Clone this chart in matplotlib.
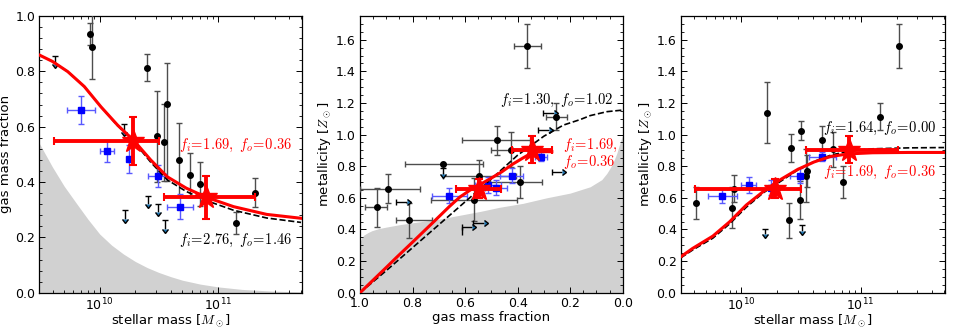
import numpy as np
import matplotlib
matplotlib.use("Agg")
import matplotlib.pyplot as plt
from matplotlib.ticker import MultipleLocator

plt.rcParams['mathtext.fontset'] = 'cm'
plt.rcParams['font.family'] = ['DejaVu Sans']

# ---------------- model curves / shaded regions ----------------
p1_curve_logM = [9.49, 9.60, 9.73, 9.87, 10.01, 10.15, 10.29, 10.43, 10.57, 10.73, 10.90, 11.13, 11.41, 11.70]
p1_red = [0.859, 0.836, 0.799, 0.745, 0.672, 0.606, 0.549, 0.480, 0.419, 0.378, 0.345, 0.311, 0.283, 0.269]
p1_dash = [0.859, 0.836, 0.799, 0.745, 0.672, 0.604, 0.545, 0.472, 0.408, 0.366, 0.333, 0.298, 0.270, 0.254]
p1_gray_logM = [9.49, 9.60, 9.70, 9.80, 9.90, 10.00, 10.10, 10.20, 10.30, 10.40, 10.50, 10.60, 10.70,
                10.85, 11.00, 11.20, 11.45, 11.70]
p1_gray = [0.54, 0.455, 0.385, 0.325, 0.266, 0.212, 0.172, 0.140, 0.113, 0.091, 0.073, 0.058, 0.045,
           0.031, 0.021, 0.012, 0.006, 0.003]

p2_red_f = [1.0, 0.95, 0.90, 0.86, 0.80, 0.72, 0.66, 0.62, 0.58, 0.55, 0.50, 0.46, 0.42, 0.38, 0.345, 0.31, 0.27]
p2_red_Z = [0.0, 0.08, 0.16, 0.225, 0.32, 0.448, 0.545, 0.605, 0.650, 0.678, 0.725, 0.765, 0.812, 0.852, 0.885, 0.892, 0.892]
p2_dash_f = [1.0, 0.9, 0.8, 0.7, 0.6, 0.5, 0.4, 0.3, 0.226, 0.162, 0.124, 0.06, 0.0]
p2_dash_Z = [0.0, 0.14, 0.285, 0.43, 0.575, 0.72, 0.87, 0.99, 1.06, 1.095, 1.12, 1.145, 1.155]
p2_gray_f = [1.0, 0.998, 0.993, 0.985, 0.97, 0.955, 0.93, 0.90, 0.85, 0.81, 0.70, 0.62, 0.54, 0.47, 0.38,
             0.29, 0.20, 0.124, 0.08, 0.061, 0.04, 0.023, 0.01, 0.0]
p2_gray_Z = [0.30, 0.33, 0.35, 0.365, 0.38, 0.392, 0.405, 0.415, 0.43, 0.44, 0.465, 0.49, 0.515, 0.54, 0.565,
             0.60, 0.63, 0.67, 0.715, 0.754, 0.81, 0.88, 0.95, 1.0]

p3_curve_logM = [9.49, 9.59, 9.76, 9.90, 10.04, 10.18, 10.32, 10.47, 10.61, 10.75, 10.90, 11.10, 11.40, 11.70]
p3_red = [0.227, 0.28, 0.358, 0.448, 0.554, 0.638, 0.712, 0.779, 0.827, 0.862, 0.878, 0.885, 0.887, 0.887]
p3_dash = [0.22, 0.27, 0.345, 0.435, 0.54, 0.63, 0.70, 0.775, 0.83, 0.87, 0.895, 0.91, 0.916, 0.918]

# ---------------- stacked (red star) points ----------------
star_logM = [10.285, 10.90]
star_logM_lo = [9.61, 10.545]
star_logM_hi = [10.50, 11.31]
star_fgas = [0.549, 0.345]
star_fgas_err = [0.087, 0.077]
star_Z = [0.659, 0.905]
star_Z_err = [0.058, 0.084]

# ---------------- blue squares ----------------
blu_logM = [9.84, 10.06, 10.25, 10.49, 10.68]
blu_logM_lo = [9.72, 10.00, 10.235, 10.41, 10.565]
blu_logM_hi = [9.96, 10.12, 10.265, 10.56, 10.79]
blu_fgas = [0.660, 0.512, 0.482, 0.422, 0.311]
blu_fgas_err_p1 = [0.05, 0.04, 0.05, 0.04, 0.045]
blu_fgas_err_p2 = [0.068, 0.05, 0.043, 0.044, 0.024]
blu_Z = [0.613, 0.680, 0.665, 0.739, 0.861]
blu_Z_err = [0.047, 0.05, 0.05, 0.047, 0.03]

# ---------------- black points, panel 1 ----------------
p1_blk_logM = [9.921, 9.938, 10.397, 10.486, 10.547, 10.564, 10.670, 10.765, 10.849, 11.154, 11.310]
p1_blk_f = [0.935, 0.889, 0.812, 0.566, 0.543, 0.682, 0.480, 0.425, 0.393, 0.253, 0.361]
p1_blk_flo = [0.04, 0.118, 0.047, 0.165, 0.14, 0.28, 0.133, 0.08, 0.08, 0.04, 0.053]
p1_blk_fhi = [0.04, 0.13, 0.049, 0.163, 0.14, 0.147, 0.132, 0.079, 0.08, 0.04, 0.052]
p1_lim_logM = [9.620, 10.206, 10.215, 10.41, 10.494, 10.55]
p1_lim_f = [0.855, 0.61, 0.298, 0.349, 0.32, 0.262]

# ---------------- black points, panel 2 ----------------
p2_blk_f = [0.363, 0.254, 0.480, 0.424, 0.683, 0.546, 0.391, 0.892, 0.937, 0.813, 0.567]
p2_blk_flo = [0.053, 0.043, 0.127, 0.065, 0.15, 0.14, 0.083, 0.12, 0.041, 0.086, 0.166]
p2_blk_fhi = [0.051, 0.038, 0.133, 0.077, 0.146, 0.14, 0.114, 0.11, 0.044, 0.05, 0.164]
p2_blk_Z = [1.558, 1.112, 0.964, 0.905, 0.811, 0.737, 0.701, 0.659, 0.539, 0.459, 0.589]
p2_blk_Zerr = [0.14, 0.085, 0.092, 0.11, 0.0, 0.1, 0.1, 0.09, 0.124, 0.11, 0.137]
p2_ylim_f = [0.683]
p2_ylim_Z = [0.79]
p2_xlim_f = [0.863, 0.302, 0.321, 0.270, 0.613, 0.569]
p2_xlim_Z = [0.571, 1.137, 1.027, 0.764, 0.413, 0.442]
p2_vseg_f = [0.613]
p2_vseg_Z0 = [0.364]
p2_vseg_Z1 = [0.413]

# ---------------- black points, panel 3 ----------------
p3_blk_logM = [9.617, 9.921, 9.935, 10.211, 10.417, 10.400, 10.499, 10.490, 10.544, 10.552, 10.676, 10.769,
               10.854, 11.161, 11.324]
p3_blk_Z = [0.568, 0.537, 0.659, 1.139, 0.914, 0.457, 1.025, 0.585, 0.741, 0.768, 0.964, 0.907, 0.701,
            1.112, 1.558]
p3_blk_Zerr = [0.1, 0.13, 0.085, 0.195, 0.088, 0.11, 0.06, 0.12, 0.17, 0.1, 0.092, 0.11, 0.1, 0.085, 0.14]
p3_lim_logM = [10.2, 10.504]
p3_lim_Z = [0.406, 0.427]

# ---------------- annotations ----------------
txt_red = r'$f_i\!=\!1.69,\ f_o\!=\!0.36$'
txt_p1 = r'$f_i\!=\!2.76,\ f_o\!=\!1.46$'
txt_p2 = r'$f_i\!=\!1.30,\ f_o\!=\!1.02$'
txt_p2_red1 = r'$f_i\!=\!1.69,$'
txt_p2_red2 = r'$f_o\!=\!0.36$'
txt_p3 = r'$f_i\!=\!1.64,\ f_o\!=\!0.00$'

XLIM_LOG = (10 ** 9.49, 10 ** 11.705)
GRAY = '0.82'
BLK_E = '0.3'
BLU_E = (0.35, 0.35, 1.0)
TXT_FS = 10.5


def p(v):
    return np.power(10.0, np.asarray(v, dtype=float))


def xerr_log(c, lo, hi):
    c, lo, hi = p(c), p(lo), p(hi)
    return [c - lo, hi - c]


def style(ax):
    ax.tick_params(which='both', direction='in', top=True, right=True, labelsize=9)
    ax.tick_params(which='major', length=4, width=0.7, pad=3)
    ax.tick_params(which='minor', length=2, width=0.6)
    for s in ax.spines.values():
        s.set_linewidth(0.9)


fig = plt.figure(figsize=(9.54, 3.29), dpi=100)
ax1 = fig.add_axes([0.0412, 0.1103, 0.2750, 0.8411])
ax2 = fig.add_axes([0.3774, 0.1103, 0.2754, 0.8411])
ax3 = fig.add_axes([0.7135, 0.1103, 0.2767, 0.8411])

# ---------------- panel 1 ----------------
ax1.set_xscale('log')
ax1.set_xlim(*XLIM_LOG)
ax1.set_ylim(0, 1.0)
ax1.fill_between(p(p1_gray_logM), 0, p1_gray, color=GRAY, lw=0, zorder=0)
ax1.errorbar(p(p1_blk_logM), p1_blk_f, yerr=[p1_blk_flo, p1_blk_fhi], fmt='o', color='k', ms=4,
             ecolor=BLK_E, elinewidth=1, capsize=2, zorder=3)
ax1.errorbar(p(p1_lim_logM), p1_lim_f, yerr=0.03, uplims=True, fmt='none', ecolor='k',
             elinewidth=1, capsize=2, zorder=3)
ax1.errorbar(p(blu_logM), blu_fgas, xerr=xerr_log(blu_logM, blu_logM_lo, blu_logM_hi),
             yerr=blu_fgas_err_p1, fmt='s', color='b', ms=4, ecolor=BLU_E, elinewidth=1, capsize=2, zorder=3)
ax1.plot(p(p1_curve_logM), p1_dash, 'k--', lw=1.2, zorder=4)
ax1.plot(p(p1_curve_logM), p1_red, 'r-', lw=2.2, zorder=5)
ax1.errorbar(p(star_logM), star_fgas, xerr=xerr_log(star_logM, star_logM_lo, star_logM_hi),
             yerr=star_fgas_err, fmt='*', color='r', ms=17, mec='r', ecolor='r', elinewidth=2.8,
             capsize=3, capthick=1.5, zorder=6)
ax1.text(10 ** 11.62, 0.534, txt_red, color='r', ha='right', va='center', fontsize=TXT_FS)
ax1.text(10 ** 11.62, 0.19, txt_p1, color='k', ha='right', va='center', fontsize=TXT_FS)
ax1.set_xlabel('stellar mass [$M_\\odot$]', fontsize=9.5, labelpad=-1)
ax1.set_ylabel('gas mass fraction', fontsize=9.5, labelpad=2)
ax1.yaxis.set_major_locator(MultipleLocator(0.2))
ax1.yaxis.set_minor_locator(MultipleLocator(0.04))
style(ax1)

# ---------------- panel 2 ----------------
ax2.set_xlim(1.0, 0.0)
ax2.set_ylim(0, 1.75)
ax2.fill_between(p2_gray_f, 0, p2_gray_Z, color=GRAY, lw=0, zorder=0)
ax2.errorbar(p2_blk_f, p2_blk_Z, xerr=[p2_blk_flo, p2_blk_fhi], yerr=p2_blk_Zerr, fmt='o', color='k',
             ms=4, ecolor=BLK_E, elinewidth=1, capsize=2, zorder=3)
ax2.errorbar(p2_ylim_f, p2_ylim_Z, yerr=0.04, uplims=True, fmt='none', ecolor='k',
             elinewidth=1, capsize=2, zorder=3)
ax2.errorbar(p2_xlim_f, p2_xlim_Z, xerr=0.04, xuplims=True, fmt='none', ecolor='k',
             elinewidth=1, capsize=2, zorder=3)
ax2.vlines(p2_vseg_f, p2_vseg_Z0, p2_vseg_Z1, color='k', lw=1, zorder=3)
ax2.errorbar(blu_fgas, blu_Z, xerr=blu_fgas_err_p2, yerr=blu_Z_err, fmt='s', color='b', ms=4,
             ecolor=BLU_E, elinewidth=1, capsize=2, zorder=3)
ax2.plot(p2_dash_f, p2_dash_Z, 'k--', lw=1.2, zorder=4)
ax2.plot(p2_red_f, p2_red_Z, 'r-', lw=2.2, zorder=5)
ax2.errorbar(star_fgas, star_Z, xerr=star_fgas_err, yerr=star_Z_err, fmt='*', color='r', ms=17, mec='r',
             ecolor='r', elinewidth=2.8, capsize=3, capthick=1.5, zorder=6)
ax2.text(0.036, 1.217, txt_p2, color='k', ha='right', va='center', fontsize=TXT_FS)
ax2.text(0.226, 0.933, txt_p2_red1, color='r', ha='left', va='center', fontsize=TXT_FS)
ax2.text(0.226, 0.827, txt_p2_red2, color='r', ha='left', va='center', fontsize=TXT_FS)
ax2.set_xlabel('gas mass fraction', fontsize=9.5, labelpad=1)
ax2.set_ylabel('metallicity [$Z_\\odot$]', fontsize=9.5, labelpad=2)
ax2.xaxis.set_major_locator(MultipleLocator(0.2))
ax2.xaxis.set_minor_locator(MultipleLocator(0.05))
ax2.yaxis.set_major_locator(MultipleLocator(0.2))
ax2.yaxis.set_minor_locator(MultipleLocator(0.05))
style(ax2)

# ---------------- panel 3 ----------------
ax3.set_xscale('log')
ax3.set_xlim(*XLIM_LOG)
ax3.set_ylim(0, 1.75)
ax3.errorbar(p(p3_blk_logM), p3_blk_Z, yerr=p3_blk_Zerr, fmt='o', color='k', ms=4,
             ecolor=BLK_E, elinewidth=1, capsize=2, zorder=3)
ax3.errorbar(p(p3_lim_logM), p3_lim_Z, yerr=0.035, uplims=True, fmt='none', ecolor='k',
             elinewidth=1, capsize=2, zorder=3)
ax3.errorbar(p(blu_logM), blu_Z, xerr=xerr_log(blu_logM, blu_logM_lo, blu_logM_hi),
             yerr=blu_Z_err, fmt='s', color='b', ms=4, ecolor=BLU_E, elinewidth=1, capsize=2, zorder=3)
ax3.plot(p(p3_curve_logM), p3_dash, 'k--', lw=1.2, zorder=4)
ax3.plot(p(p3_curve_logM), p3_red, 'r-', lw=2.2, zorder=5)
ax3.errorbar(p(star_logM), star_Z, xerr=xerr_log(star_logM, star_logM_lo, star_logM_hi),
             yerr=star_Z_err, fmt='*', color='r', ms=17, mec='r', ecolor='r', elinewidth=2.8,
             capsize=3, capthick=1.5, zorder=6)
ax3.text(10 ** 11.634, 1.038, txt_p3, color='k', ha='right', va='center', fontsize=TXT_FS)
ax3.text(10 ** 11.634, 0.758, txt_red, color='r', ha='right', va='center', fontsize=TXT_FS)
ax3.set_xlabel('stellar mass [$M_\\odot$]', fontsize=9.5, labelpad=-1)
ax3.set_ylabel('metallicity [$Z_\\odot$]', fontsize=9.5, labelpad=2)
ax3.yaxis.set_major_locator(MultipleLocator(0.2))
ax3.yaxis.set_minor_locator(MultipleLocator(0.05))
style(ax3)

fig.savefig('out.png', dpi=100)
